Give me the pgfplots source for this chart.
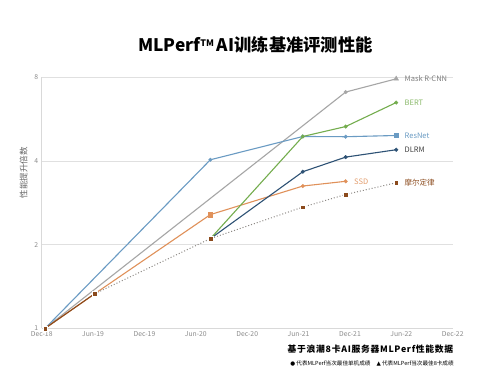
\documentclass[border=0pt]{standalone}
\usepackage{pgfplots}
\pgfplotsset{compat=1.18}
\usepackage{fontspec}
\setmainfont{Noto Sans CJK SC}
\newfontfamily\symfont{DejaVu Sans}
\definecolor{cgray}{HTML}{A6A6A6}
\definecolor{cgreen}{HTML}{74AD4E}
\definecolor{cblue}{HTML}{6A9BC3}
\definecolor{cdark}{HTML}{2E5275}
\definecolor{corange}{HTML}{E0915A}
\definecolor{cbrown}{HTML}{8B4A1C}
\definecolor{cdot}{HTML}{8E8A86}
\begin{document}
\begin{tikzpicture}[x=1pt,y=1pt]
\path[use as bounding box, fill=white] (0,0) rectangle (499,-377);
\begin{axis}[
  at={(41.7pt,-328.3pt)}, anchor=south west,
  scale only axis, width=411pt, height=251pt,
  xmin=0, xmax=48, ymin=1, ymax=8,
  ymode=log, log basis y=2,
  ytick={1,2,4,8}, yticklabels={1,2,4,8},
  xtick={0,6,...,48},
  xticklabels={Dec-18,Jun-19,Dec-19,Jun-20,Dec-20,Jun-21,Dec-21,Jun-22,Dec-22},
  axis lines*=left,
  axis line style={-, draw=black!15, line width=0.8pt},
  ymajorgrids, grid style={draw=black!12, line width=0.8pt},
  major tick length=0pt,
  tick label style={font=\fontsize{6.8}{7.5}\selectfont, text=black!45},
  /pgf/number format/assume math mode=true,
  ylabel={性能提升倍数},
  ylabel style={at={(ticklabel cs:0.62)}, font=\fontsize{8.5}{9}\selectfont, text=black!60},
  clip=false,
]
% Mask R-CNN
\addplot[cgray, line width=1.1pt, no marks] coordinates {(0.4,1) (35.5,7.08) (41.4,7.90)};
\addplot[cgray, only marks, mark=*, mark size=1.8pt] coordinates {(35.5,7.08)};
\addplot[cgray, only marks, mark=triangle*, mark size=2.8pt] coordinates {(41.4,7.90)};
% ResNet
\addplot[cblue, line width=1.1pt, no marks] coordinates {(0.4,1) (19.7,4.04) (30.5,4.90) (35.5,4.89) (41.4,4.94)};
\addplot[cblue, only marks, mark=*, mark size=1.8pt] coordinates {(19.7,4.04) (30.5,4.90) (35.5,4.89)};
\addplot[cblue, only marks, mark=square*, mark size=2.2pt] coordinates {(41.4,4.94)};
% SSD
\addplot[corange, line width=1.1pt, no marks] coordinates {(0.4,1) (6.2,1.332) (19.7,2.565) (30.5,3.25) (35.5,3.38)};
\addplot[corange, only marks, mark=square*, mark size=2.2pt] coordinates {(19.7,2.565)};
\addplot[corange, only marks, mark=*, mark size=1.8pt] coordinates {(30.5,3.25) (35.5,3.38)};
% DLRM
\addplot[cdark, line width=1.1pt, no marks] coordinates {(19.7,2.102) (30.5,3.66) (35.5,4.13) (41.4,4.39)};
\addplot[cdark, only marks, mark=*, mark size=1.8pt] coordinates {(30.5,3.66) (35.5,4.13) (41.4,4.39)};
% BERT
\addplot[cgreen, line width=1.1pt, no marks] coordinates {(19.7,2.102) (30.5,4.90) (35.5,5.32) (41.4,6.49)};
\addplot[cgreen, only marks, mark=*, mark size=1.8pt] coordinates {(30.5,4.90) (35.5,5.32) (41.4,6.49)};
% Moore's law
\addplot[cbrown, line width=1.1pt, no marks] coordinates {(0.4,1) (6.2,1.332)};
\addplot[cdot, line width=1pt, dotted, no marks] coordinates {(6.2,1.332) (19.7,2.102) (30.5,2.73) (35.5,3.03) (41.4,3.34)};
\addplot[cbrown, only marks, mark=square*, mark size=2.4pt, mark options={draw=white, line width=0.3pt, fill=cbrown}] coordinates {(0.4,1) (6.2,1.332) (19.7,2.102) (30.5,2.73) (35.5,3.03) (41.4,3.34)};
% labels
\begin{scope}[font=\fontsize{7.5}{8}\selectfont]
\node[anchor=west, text=black!50, xshift=5pt] at (axis cs:41.4,7.90) {Mask R-CNN};
\node[anchor=west, text=cgreen!85, xshift=5pt] at (axis cs:41.4,6.49) {BERT};
\node[anchor=west, text=cblue, xshift=5pt] at (axis cs:41.4,4.94) {ResNet};
\node[anchor=west, text=black!75, xshift=5pt] at (axis cs:41.4,4.39) {DLRM};
\node[anchor=west, text=corange!90, xshift=5pt] at (axis cs:35.5,3.38) {SSD};
\node[anchor=west, text=cbrown, xshift=5pt] at (axis cs:41.4,3.34) {摩尔定律};
\end{scope}
\end{axis}
\node at (255.5,-45) {\fontsize{17.3}{20}\selectfont\bfseries MLPerf\raisebox{0.6ex}{\fontsize{9}{9}\selectfont TM}\,AI训练基准评测性能};
\node at (370.5,-349) {\fontsize{8.8}{10}\selectfont\bfseries\addfontfeatures{LetterSpace=8} 基于浪潮8卡AI服务器MLPerf性能数据};
\node at (372,-363) {\fontsize{5.6}{6.5}\selectfont {\symfont ●} 代表MLPerf当次最佳单机成绩\hspace{6pt}{\symfont ▲} 代表MLPerf当次最佳8卡成绩};
\end{tikzpicture}
\end{document}
